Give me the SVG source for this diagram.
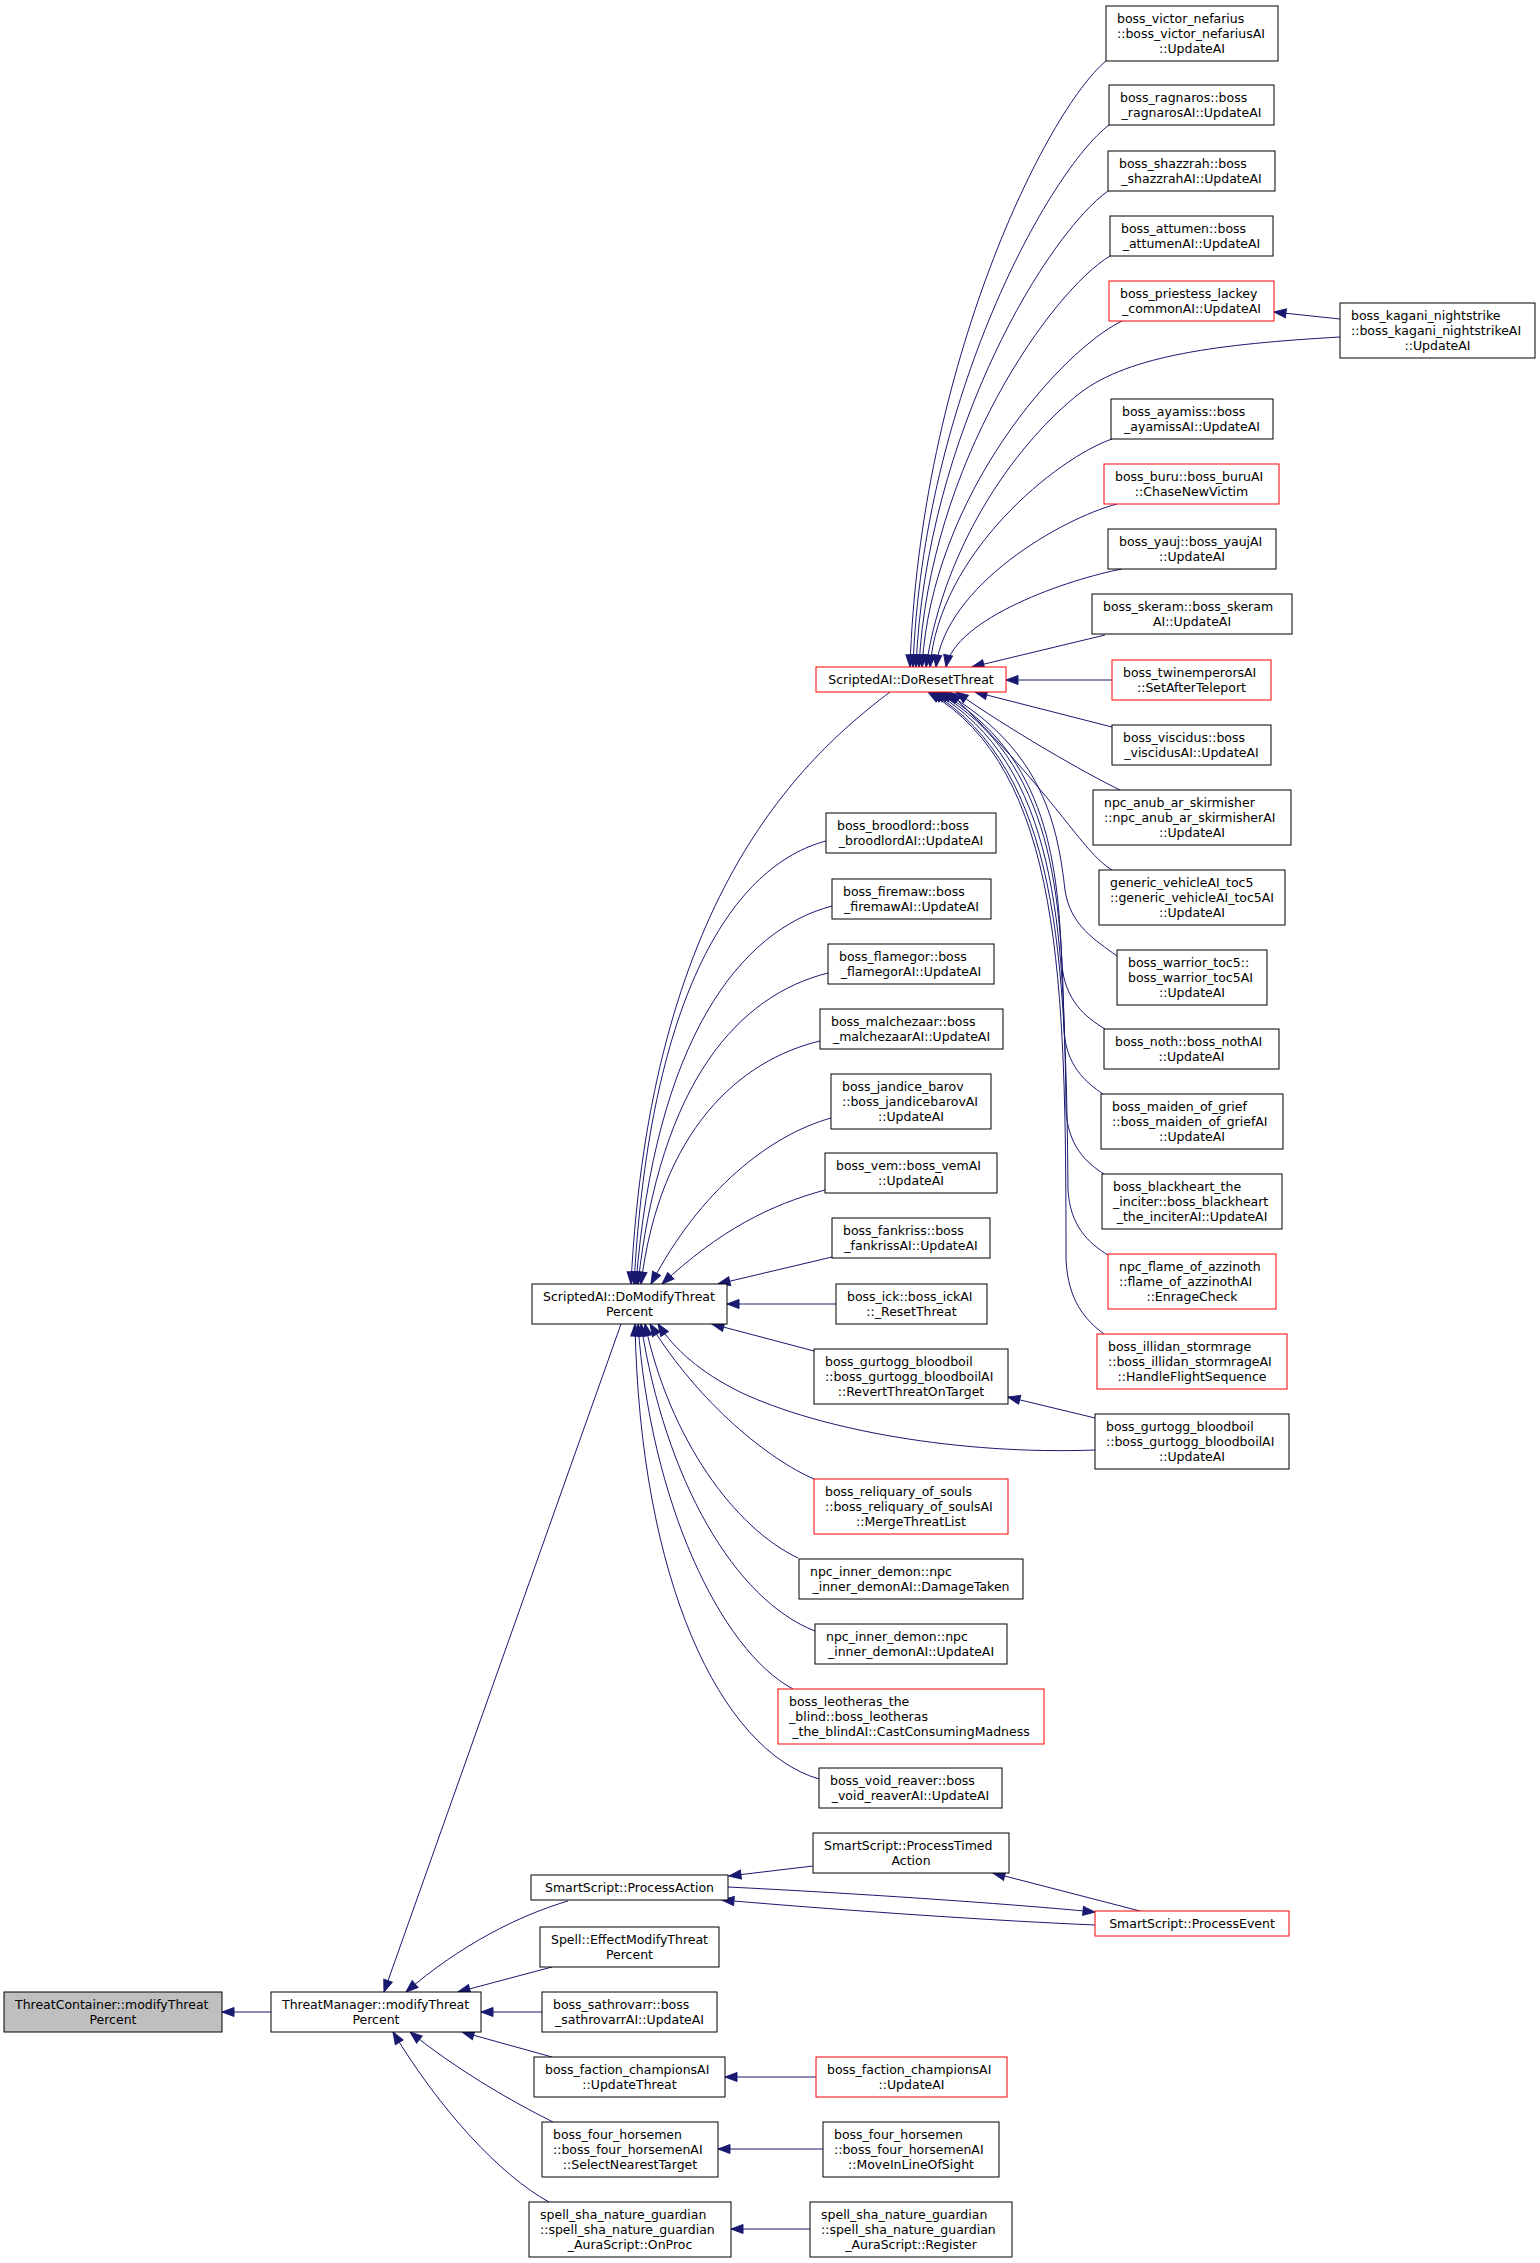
<svg xmlns="http://www.w3.org/2000/svg" width="1540" height="2263" viewBox="0 0 1540 2263">
<defs>
<style>
.e{fill:none;stroke:#191970;stroke-width:1;marker-end:url(#ah)}
rect{fill:#fff;stroke:#000;stroke-width:1}
.r rect{stroke:#ff0000}
.root rect{fill:#bfbfbf}
text{font-family:"DejaVu Sans",sans-serif;font-size:12.5px;fill:#000}
.m{text-anchor:middle}
</style>
<marker id="ah" markerUnits="userSpaceOnUse" markerWidth="14" markerHeight="12" refX="12" refY="6" orient="auto" overflow="visible">
<path d="M0,1.5 L12,6 L0,10.5 z" fill="#191970" stroke="#191970" stroke-width="1"/>
</marker>
</defs>
<rect x="0" y="0" width="1540" height="2263" style="fill:#fff;stroke:none"/>
<g id="connectors">
<path class="e" d="M271,2012 L222,2012"/>
<path class="e" d="M621,1324 L384,1992"/>
<path class="e" d="M568,1901 C520,1915 460,1945 406,1992"/>
<path class="e" d="M552,1967 L458,1992"/>
<path class="e" d="M542,2012 L481,2012"/>
<path class="e" d="M552,2057 L462,2032"/>
<path class="e" d="M553,2122 C505,2098 455,2068 410,2032"/>
<path class="e" d="M549,2202 C500,2175 440,2110 393,2032"/>
<path class="e" d="M813,1866 L729,1876"/>
<path class="e" d="M1095,1925 C1000,1921 850,1911 722,1900"/>
<path class="e" d="M728,1887 C850,1893 1000,1903 1095,1912"/>
<path class="e" d="M1140,1911 L993,1873"/>
<path class="e" d="M816,2077 L725,2077"/>
<path class="e" d="M823,2149 L718,2149"/>
<path class="e" d="M810,2229 L731,2229"/>
<path class="e" d="M890,692 C800,760 650,900 631,1284"/>
<path class="e" d="M826,841 C735,865 650,990 634,1284"/>
<path class="e" d="M832,906 C740,930 655,1040 636,1284"/>
<path class="e" d="M828,973 C740,995 660,1080 638,1284"/>
<path class="e" d="M820,1041 C740,1060 660,1130 641,1284"/>
<path class="e" d="M831,1118 C770,1135 700,1190 651,1284"/>
<path class="e" d="M825,1190 C770,1205 720,1230 662,1284"/>
<path class="e" d="M832,1257 L718,1284"/>
<path class="e" d="M836,1304 L727,1304"/>
<path class="e" d="M814,1351 L712,1324"/>
<path class="e" d="M1095,1450 C960,1455 820,1430 740,1392 C700,1372 675,1350 658,1324"/>
<path class="e" d="M1095,1418 L1008,1397"/>
<path class="e" d="M814,1479 C770,1460 700,1405 650,1324"/>
<path class="e" d="M798,1558 C735,1528 670,1440 645,1324"/>
<path class="e" d="M815,1631 C735,1600 665,1480 641,1324"/>
<path class="e" d="M793,1689 C720,1650 650,1500 638,1324"/>
<path class="e" d="M819,1779 C720,1750 640,1580 635,1324"/>
<path class="e" d="M1106,61 C1047,110 920,364 910,667"/>
<path class="e" d="M1109,125 C1050,170 923,396 913,667"/>
<path class="e" d="M1108,191 C1050,232 926,429 916,667"/>
<path class="e" d="M1110,256 C1053,290 929,462 919,667"/>
<path class="e" d="M1122,321 C1062,350 932,494 922,667"/>
<path class="e" d="M1340,337 C1220,344 1130,355 1080,393 C1020,440 945,540 926,667"/>
<path class="e" d="M1112,439 C1057,458 939,553 930,667"/>
<path class="e" d="M1117,504 C1063,518 945,585 936,667"/>
<path class="e" d="M1122,569 C1069,579 955,618 946,667"/>
<path class="e" d="M1105,635 L972,667"/>
<path class="e" d="M1112,680 L1006,680"/>
<path class="e" d="M1112,727 L975,692"/>
<path class="e" d="M1340,319 L1274,312"/>
<path class="e" d="M1120,790 C1085,773 1010,730 956,692"/>
<path class="e" d="M1112,870 C1080,850 1060,800 949,692"/>
<path class="e" d="M1117,956 C1095,940 1070,925 1065,890 C1058,830 1045,750 944,692"/>
<path class="e" d="M1105,1029 C1085,1017 1065,1000 1062,965 C1058,870 1050,755 940,692"/>
<path class="e" d="M1103,1094 C1085,1082 1066,1065 1064,1030 C1062,900 1055,760 937,692"/>
<path class="e" d="M1104,1174 C1085,1162 1068,1145 1066,1110 C1064,930 1058,765 934,692"/>
<path class="e" d="M1108,1255 C1088,1243 1070,1225 1068,1190 C1066,960 1060,770 931,692"/>
<path class="e" d="M1104,1334 C1085,1320 1068,1300 1066,1260 C1066,980 1062,770 928,692"/>
</g>
<g id="n_tc" class="root"><rect x="4" y="1992" width="218" height="40"/><text x="15" y="2009">ThreatContainer::modifyThreat</text><text class="m" x="113" y="2024">Percent</text></g>
<g id="n_tm"><rect x="271" y="1992" width="210" height="40"/><text x="282" y="2009">ThreatManager::modifyThreat</text><text class="m" x="376" y="2024">Percent</text></g>
<g id="n_domodify"><rect x="532" y="1284" width="195" height="40"/><text x="543" y="1301">ScriptedAI::DoModifyThreat</text><text class="m" x="629.5" y="1316">Percent</text></g>
<g id="n_processaction"><rect x="531" y="1875" width="197" height="25"/><text class="m" x="629.5" y="1892">SmartScript::ProcessAction</text></g>
<g id="n_spell"><rect x="540" y="1927" width="179" height="40"/><text x="551" y="1944">Spell::EffectModifyThreat</text><text class="m" x="629.5" y="1959">Percent</text></g>
<g id="n_sathrovarr"><rect x="542" y="1992" width="175" height="40"/><text x="553" y="2009">boss_sathrovarr::boss</text><text class="m" x="629.5" y="2024">_sathrovarrAI::UpdateAI</text></g>
<g id="n_faction_ut"><rect x="534" y="2057" width="191" height="40"/><text x="545" y="2074">boss_faction_championsAI</text><text class="m" x="629.5" y="2089">::UpdateThreat</text></g>
<g id="n_horsemen_sel"><rect x="542" y="2122" width="176" height="55"/><text x="553" y="2139">boss_four_horsemen</text><text x="553" y="2154">::boss_four_horsemenAI</text><text class="m" x="630" y="2169">::SelectNearestTarget</text></g>
<g id="n_sha_onproc"><rect x="529" y="2202" width="202" height="55"/><text x="540" y="2219">spell_sha_nature_guardian</text><text x="540" y="2234">::spell_sha_nature_guardian</text><text class="m" x="630" y="2249">_AuraScript::OnProc</text></g>
<g id="n_doreset" class="r"><rect x="816" y="667" width="190" height="25"/><text class="m" x="911" y="684">ScriptedAI::DoResetThreat</text></g>
<g id="n_broodlord"><rect x="826" y="813" width="170" height="40"/><text x="837" y="830">boss_broodlord::boss</text><text class="m" x="911" y="845">_broodlordAI::UpdateAI</text></g>
<g id="n_firemaw"><rect x="832" y="879" width="159" height="40"/><text x="843" y="896">boss_firemaw::boss</text><text class="m" x="911.5" y="911">_firemawAI::UpdateAI</text></g>
<g id="n_flamegor"><rect x="828" y="944" width="166" height="40"/><text x="839" y="961">boss_flamegor::boss</text><text class="m" x="911" y="976">_flamegorAI::UpdateAI</text></g>
<g id="n_malchezaar"><rect x="820" y="1009" width="183" height="40"/><text x="831" y="1026">boss_malchezaar::boss</text><text class="m" x="911.5" y="1041">_malchezaarAI::UpdateAI</text></g>
<g id="n_jandice"><rect x="831" y="1074" width="160" height="55"/><text x="842" y="1091">boss_jandice_barov</text><text x="842" y="1106">::boss_jandicebarovAI</text><text class="m" x="911" y="1121">::UpdateAI</text></g>
<g id="n_vem"><rect x="825" y="1153" width="172" height="40"/><text x="836" y="1170">boss_vem::boss_vemAI</text><text class="m" x="911" y="1185">::UpdateAI</text></g>
<g id="n_fankriss"><rect x="832" y="1218" width="158" height="40"/><text x="843" y="1235">boss_fankriss::boss</text><text class="m" x="911" y="1250">_fankrissAI::UpdateAI</text></g>
<g id="n_ick"><rect x="836" y="1284" width="151" height="40"/><text x="847" y="1301">boss_ick::boss_ickAI</text><text class="m" x="911.5" y="1316">::_ResetThreat</text></g>
<g id="n_gurtogg_revert"><rect x="814" y="1349" width="194" height="55"/><text x="825" y="1366">boss_gurtogg_bloodboil</text><text x="825" y="1381">::boss_gurtogg_bloodboilAI</text><text class="m" x="911" y="1396">::RevertThreatOnTarget</text></g>
<g id="n_reliquary" class="r"><rect x="814" y="1479" width="194" height="55"/><text x="825" y="1496">boss_reliquary_of_souls</text><text x="825" y="1511">::boss_reliquary_of_soulsAI</text><text class="m" x="911" y="1526">::MergeThreatList</text></g>
<g id="n_inner_dmg"><rect x="799" y="1559" width="224" height="40"/><text x="810" y="1576">npc_inner_demon::npc</text><text class="m" x="911" y="1591">_inner_demonAI::DamageTaken</text></g>
<g id="n_inner_upd"><rect x="815" y="1624" width="192" height="40"/><text x="826" y="1641">npc_inner_demon::npc</text><text class="m" x="911" y="1656">_inner_demonAI::UpdateAI</text></g>
<g id="n_leotheras" class="r"><rect x="778" y="1689" width="266" height="55"/><text x="789" y="1706">boss_leotheras_the</text><text x="789" y="1721">_blind::boss_leotheras</text><text class="m" x="911" y="1736">_the_blindAI::CastConsumingMadness</text></g>
<g id="n_void"><rect x="819" y="1768" width="183" height="40"/><text x="830" y="1785">boss_void_reaver::boss</text><text class="m" x="910.5" y="1800">_void_reaverAI::UpdateAI</text></g>
<g id="n_processtimed"><rect x="813" y="1833" width="196" height="40"/><text x="824" y="1850">SmartScript::ProcessTimed</text><text class="m" x="911" y="1865">Action</text></g>
<g id="n_faction_uai" class="r"><rect x="816" y="2057" width="191" height="40"/><text x="827" y="2074">boss_faction_championsAI</text><text class="m" x="911.5" y="2089">::UpdateAI</text></g>
<g id="n_horsemen_los"><rect x="823" y="2122" width="176" height="55"/><text x="834" y="2139">boss_four_horsemen</text><text x="834" y="2154">::boss_four_horsemenAI</text><text class="m" x="911" y="2169">::MoveInLineOfSight</text></g>
<g id="n_sha_register"><rect x="810" y="2202" width="202" height="55"/><text x="821" y="2219">spell_sha_nature_guardian</text><text x="821" y="2234">::spell_sha_nature_guardian</text><text class="m" x="911" y="2249">_AuraScript::Register</text></g>
<g id="n_victor"><rect x="1106" y="6" width="172" height="55"/><text x="1117" y="23">boss_victor_nefarius</text><text x="1117" y="38">::boss_victor_nefariusAI</text><text class="m" x="1192" y="53">::UpdateAI</text></g>
<g id="n_ragnaros"><rect x="1109" y="85" width="165" height="40"/><text x="1120" y="102">boss_ragnaros::boss</text><text class="m" x="1191.5" y="117">_ragnarosAI::UpdateAI</text></g>
<g id="n_shazzrah"><rect x="1108" y="151" width="167" height="40"/><text x="1119" y="168">boss_shazzrah::boss</text><text class="m" x="1191.5" y="183">_shazzrahAI::UpdateAI</text></g>
<g id="n_attumen"><rect x="1110" y="216" width="163" height="40"/><text x="1121" y="233">boss_attumen::boss</text><text class="m" x="1191.5" y="248">_attumenAI::UpdateAI</text></g>
<g id="n_priestess" class="r"><rect x="1109" y="281" width="165" height="40"/><text x="1120" y="298">boss_priestess_lackey</text><text class="m" x="1191.5" y="313">_commonAI::UpdateAI</text></g>
<g id="n_kagani"><rect x="1340" y="303" width="195" height="55"/><text x="1351" y="320">boss_kagani_nightstrike</text><text x="1351" y="335">::boss_kagani_nightstrikeAI</text><text class="m" x="1437.5" y="350">::UpdateAI</text></g>
<g id="n_ayamiss"><rect x="1111" y="399" width="162" height="40"/><text x="1122" y="416">boss_ayamiss::boss</text><text class="m" x="1192" y="431">_ayamissAI::UpdateAI</text></g>
<g id="n_buru" class="r"><rect x="1104" y="464" width="175" height="40"/><text x="1115" y="481">boss_buru::boss_buruAI</text><text class="m" x="1191.5" y="496">::ChaseNewVictim</text></g>
<g id="n_yauj"><rect x="1108" y="529" width="168" height="40"/><text x="1119" y="546">boss_yauj::boss_yaujAI</text><text class="m" x="1192" y="561">::UpdateAI</text></g>
<g id="n_skeram"><rect x="1092" y="594" width="200" height="40"/><text x="1103" y="611">boss_skeram::boss_skeram</text><text class="m" x="1192" y="626">AI::UpdateAI</text></g>
<g id="n_twin" class="r"><rect x="1112" y="660" width="159" height="40"/><text x="1123" y="677">boss_twinemperorsAI</text><text class="m" x="1191.5" y="692">::SetAfterTeleport</text></g>
<g id="n_viscidus"><rect x="1112" y="725" width="159" height="40"/><text x="1123" y="742">boss_viscidus::boss</text><text class="m" x="1191.5" y="757">_viscidusAI::UpdateAI</text></g>
<g id="n_anub"><rect x="1093" y="790" width="198" height="55"/><text x="1104" y="807">npc_anub_ar_skirmisher</text><text x="1104" y="822">::npc_anub_ar_skirmisherAI</text><text class="m" x="1192" y="837">::UpdateAI</text></g>
<g id="n_vehicle"><rect x="1099" y="870" width="186" height="55"/><text x="1110" y="887">generic_vehicleAI_toc5</text><text x="1110" y="902">::generic_vehicleAI_toc5AI</text><text class="m" x="1192" y="917">::UpdateAI</text></g>
<g id="n_warrior"><rect x="1117" y="950" width="150" height="55"/><text x="1128" y="967">boss_warrior_toc5::</text><text x="1128" y="982">boss_warrior_toc5AI</text><text class="m" x="1192" y="997">::UpdateAI</text></g>
<g id="n_noth"><rect x="1104" y="1029" width="175" height="40"/><text x="1115" y="1046">boss_noth::boss_nothAI</text><text class="m" x="1191.5" y="1061">::UpdateAI</text></g>
<g id="n_maiden"><rect x="1101" y="1094" width="182" height="55"/><text x="1112" y="1111">boss_maiden_of_grief</text><text x="1112" y="1126">::boss_maiden_of_griefAI</text><text class="m" x="1192" y="1141">::UpdateAI</text></g>
<g id="n_blackheart"><rect x="1102" y="1174" width="180" height="55"/><text x="1113" y="1191">boss_blackheart_the</text><text x="1113" y="1206">_inciter::boss_blackheart</text><text class="m" x="1192" y="1221">_the_inciterAI::UpdateAI</text></g>
<g id="n_flame" class="r"><rect x="1108" y="1254" width="168" height="55"/><text x="1119" y="1271">npc_flame_of_azzinoth</text><text x="1119" y="1286">::flame_of_azzinothAI</text><text class="m" x="1192" y="1301">::EnrageCheck</text></g>
<g id="n_illidan" class="r"><rect x="1097" y="1334" width="190" height="55"/><text x="1108" y="1351">boss_illidan_stormrage</text><text x="1108" y="1366">::boss_illidan_stormrageAI</text><text class="m" x="1192" y="1381">::HandleFlightSequence</text></g>
<g id="n_gurtogg_upd"><rect x="1095" y="1414" width="194" height="55"/><text x="1106" y="1431">boss_gurtogg_bloodboil</text><text x="1106" y="1446">::boss_gurtogg_bloodboilAI</text><text class="m" x="1192" y="1461">::UpdateAI</text></g>
<g id="n_processevent" class="r"><rect x="1095" y="1911" width="194" height="25"/><text class="m" x="1192" y="1928">SmartScript::ProcessEvent</text></g>
</svg>
